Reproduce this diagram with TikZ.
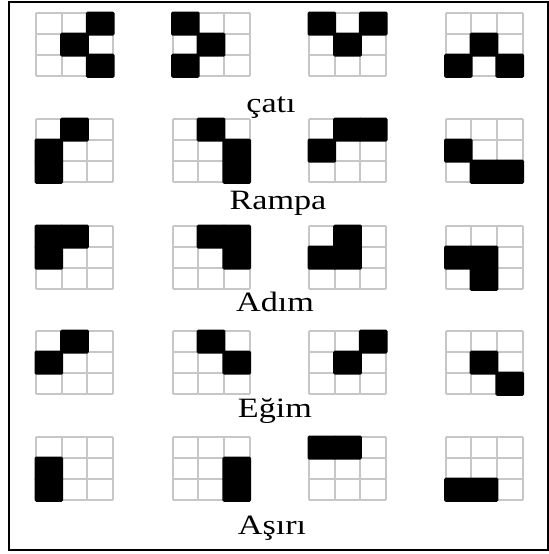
\documentclass[tikz,border=0pt]{standalone}
\usepackage{fontspec}
\newfontfamily\etiketfont[FakeStretch=1.22]{Liberation Serif}
\usetikzlibrary{positioning}

% one 3x3 pattern: name, left, top, black cells (row/col)
\newcommand{\desen}[4]{%
  \begin{scope}[shift={(#2,#3)}]
    \coordinate (#1) at (0,0);
    \foreach \k in {0,1,2,3} {
      \draw[izgara] (\k*25.7,0) -- (\k*25.7,63.3);
      \draw[izgara] (0,\k*21.1) -- (77.1,\k*21.1);
    }
    \foreach \r/\c in {#4}
      \fill[hucre] (\c*25.7-1.5,\r*21.1-1.5) rectangle ++(28.7,24.1);
  \end{scope}}

\begin{document}
\begin{tikzpicture}[x=0.75pt, y=-0.75pt,
    hucre/.style={fill=black, rounded corners=1.2pt},
    izgara/.style={draw=black!22, line width=1.5pt},
    cerceve/.style={draw=black, line width=1.5pt},
    etiket/.style={font=\etiketfont\fontsize{21}{24}\selectfont,
      inner sep=0pt, anchor=base}
]
\useasboundingbox (0,0) rectangle (549,554);
\draw[cerceve] (9,2) rectangle (548,550);

% çatı
\desen{c1}{36}{13}{0/2,1/1,2/2}
\desen{c2}{172.5}{13}{0/0,1/1,2/0}
\desen{c3}{309}{13}{0/0,0/2,1/1}
\desen{c4}{445.5}{13}{1/1,2/0,2/2}
\node[etiket] (lcati) at (271,112) {çatı};

% Rampa
\desen{r1}{36}{119}{0/1,1/0,2/0}
\desen{r2}{172.5}{119}{0/1,1/2,2/2}
\desen{r3}{309}{119}{0/1,0/2,1/0}
\desen{r4}{445.5}{119}{1/0,2/1,2/2}
\node[etiket] (lrampa) at (278,209) {Rampa};

% Adım
\desen{a1}{36}{226}{0/0,0/1,1/0}
\desen{a2}{172.5}{226}{0/1,0/2,1/2}
\desen{a3}{309}{226}{0/1,1/0,1/1}
\desen{a4}{445.5}{226}{1/0,1/1,2/1}
\node[etiket] (ladim) at (275,311) {Adım};

% Eğim
\desen{e1}{36}{331}{0/1,1/0}
\desen{e2}{172.5}{331}{0/1,1/2}
\desen{e3}{309}{331}{0/2,1/1}
\desen{e4}{445.5}{331}{1/1,2/2}
\node[etiket] (legim) at (275,417) {Eğim};

% Aşırı
\desen{s1}{36}{437}{1/0,2/0}
\desen{s2}{172.5}{437}{1/2,2/2}
\desen{s3}{309}{437}{0/0,0/1}
\desen{s4}{445.5}{437}{2/0,2/1}
\node[etiket] (lasiri) at (272,534) {Aşırı};
\end{tikzpicture}
\end{document}
